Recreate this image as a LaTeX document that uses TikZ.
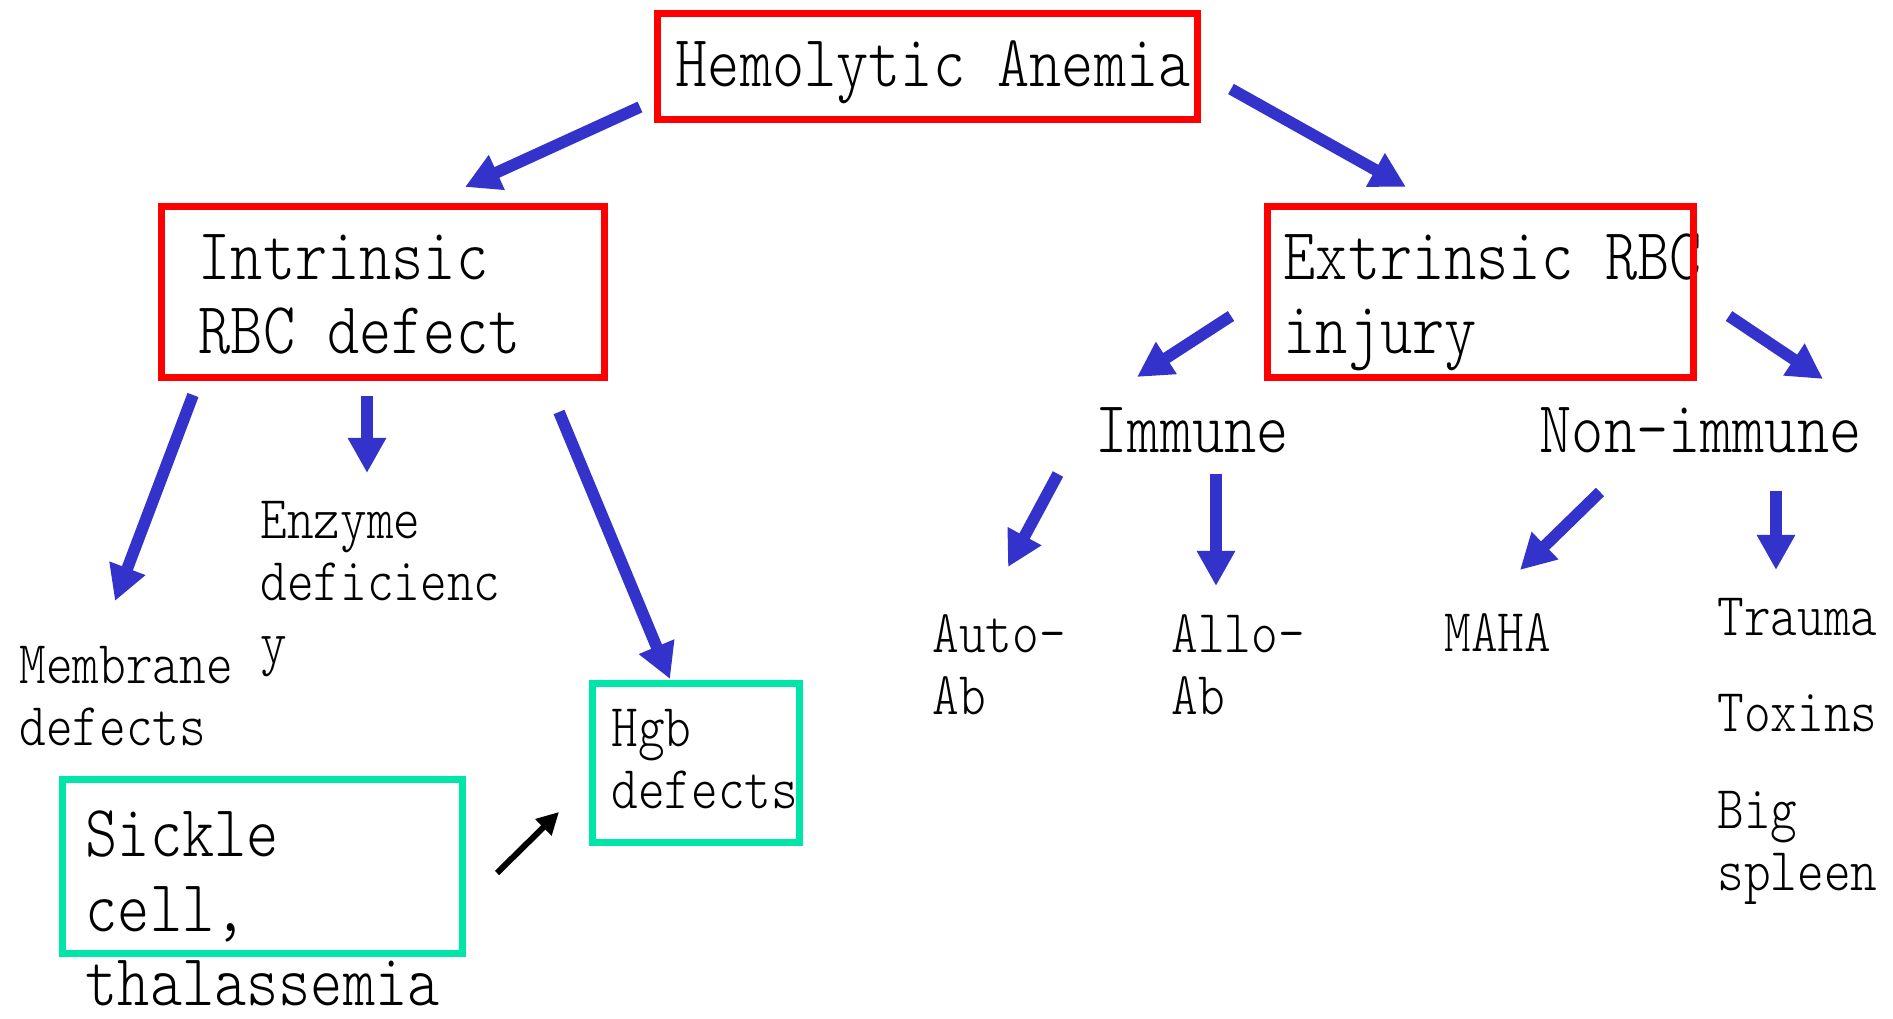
\documentclass[tikz,border=0pt]{standalone}
\usepackage{fontspec}
\usetikzlibrary{arrows.meta}

\newfontfamily\diagfont{Latin Modern Mono Light}[FakeStretch=0.834]
\newcommand{\bigtxt}{\diagfont\fontsize{20.9pt}{21.3pt}\selectfont}
\newcommand{\smalltxt}{\diagfont\fontsize{17.3pt}{17.7pt}\selectfont}

\definecolor{boxred}{RGB}{255,0,0}
\definecolor{boxgreen}{RGB}{0,230,168}
\definecolor{arrowblue}{RGB}{51,51,204}

\tikzset{
  redbox/.style={draw=boxred, line width=0.07cm, inner sep=0pt},
  greenbox/.style={draw=boxgreen, line width=0.07cm, inner sep=0pt},
  % multi-line labels sit on the baseline of their last line
  bigtext/.style={font=\bigtxt, anchor=base west, align=left, inner sep=0pt},
  smalltext/.style={font=\smalltxt, anchor=base west, align=left, inner sep=0pt},
  bluearrow/.style={draw=arrowblue, line width=0.117cm, -{Triangle[length=0.35cm,width=0.36cm]}},
  blackarrow/.style={draw=black, line width=0.06cm, -{Triangle[length=0.22cm,width=0.22cm]}}
}

\begin{document}
\begin{tikzpicture}[x=0.01cm, y=-0.01cm]
  \useasboundingbox (0,0) rectangle (1893,1019);

  % labels
  \node[bigtext] (hemo) at (675,87) {Hemolytic Anemia};
  \node[bigtext] (intr) at (198,354) {Intrinsic\\RBC defect};
  \node[bigtext] (extr) at (1283,354) {Extrinsic RBC\\injury};
  \node[bigtext] (imm) at (1095,453) {Immune};
  \node[bigtext] (nonimm) at (1539,453) {Non-immune};
  \node[smalltext] (memb) at (19,746) {Membrane\\defects};
  \node[smalltext] (enz) at (260,663) {Enzyme\\deficienc\\y};
  \node[smalltext] (hgb) at (611,809) {Hgb\\defects};
  \node[bigtext] (sickle) at (85,1006) {Sickle\\cell,\\thalassemia};
  \node[smalltext] (auto) at (932,715) {Auto-\\Ab};
  \node[smalltext] (allo) at (1171,715) {Allo-\\Ab};
  \node[smalltext] (maha) at (1444,652) {MAHA};
  \node[smalltext] (trauma) at (1717,636) {Trauma};
  \node[smalltext] (toxins) at (1717,732) {Toxins};
  \node[smalltext] (spleen) at (1717,891) {Big\\spleen};

  % frames
  \node[redbox, minimum width=5.40cm, minimum height=1.06cm] (hemobox) at (927.5,66.5) {};
  \node[redbox, minimum width=4.43cm, minimum height=1.71cm] (intrbox) at (383,292) {};
  \node[redbox, minimum width=4.26cm, minimum height=1.71cm] (extrbox) at (1480.5,292) {};
  \node[greenbox, minimum width=2.07cm, minimum height=1.59cm] (hgbbox) at (696,763) {};
  \node[greenbox, minimum width=4.00cm, minimum height=1.74cm] (sicklebox) at (262.5,866.5) {};

  % arrow ends
  \coordinate (hemoL) at (640,107);   \coordinate (intrT) at (465,187);
  \coordinate (hemoR) at (1231,89);   \coordinate (extrT) at (1406,187);
  \coordinate (intrA) at (193,395);   \coordinate (membT) at (115,601);
  \coordinate (intrB) at (367,396);   \coordinate (enzT) at (367,473);
  \coordinate (intrC) at (559,412);   \coordinate (hgbT) at (670,679);
  \coordinate (extrA) at (1231,316);  \coordinate (immT) at (1137,377);
  \coordinate (extrB) at (1729,316);  \coordinate (nonimmT) at (1823,379);
  \coordinate (immA) at (1058,474);   \coordinate (autoT) at (1008,567);
  \coordinate (immB) at (1216,474);   \coordinate (alloT) at (1216,586);
  \coordinate (nonA) at (1600,492);   \coordinate (mahaT) at (1520,570);
  \coordinate (nonB) at (1776,491);   \coordinate (traumaT) at (1776,570);
  \coordinate (sickleR) at (497,873); \coordinate (hgbL) at (559,812);

  \draw[bluearrow] (hemoL) -- (intrT);
  \draw[bluearrow] (hemoR) -- (extrT);
  \draw[bluearrow] (intrA) -- (membT);
  \draw[bluearrow] (intrB) -- (enzT);
  \draw[bluearrow] (intrC) -- (hgbT);
  \draw[bluearrow] (extrA) -- (immT);
  \draw[bluearrow] (extrB) -- (nonimmT);
  \draw[bluearrow] (immA) -- (autoT);
  \draw[bluearrow] (immB) -- (alloT);
  \draw[bluearrow] (nonA) -- (mahaT);
  \draw[bluearrow] (nonB) -- (traumaT);
  \draw[blackarrow] (sickleR) -- (hgbL);
\end{tikzpicture}
\end{document}
